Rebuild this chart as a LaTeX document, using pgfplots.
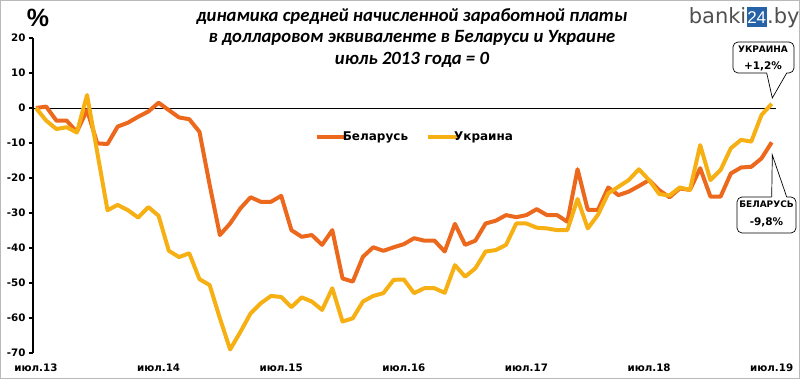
\documentclass[border=0pt]{standalone}
\usepackage{fontspec}
\setmainfont{DejaVu Sans}
\newfontfamily\titlefont{Carlito}
\newfontfamily\libfont{Liberation Sans}
\usepackage{pgfplots}
\usepackage{pgfplotstable}
\pgfplotsset{compat=1.18}
\definecolor{bel}{RGB}{236,104,28}
\definecolor{ukr}{RGB}{246,176,20}
\definecolor{logoblue}{RGB}{38,98,168}
\definecolor{logogray}{RGB}{80,80,80}

\pgfplotstableread{
i bel ukr
0 0 0
1 0.4 -3.6
2 -3.6 -6.0
3 -3.6 -5.5
4 -6.8 -7.0
5 -0.6 3.7
6 -10.1 -12.7
7 -10.3 -29.2
8 -5.3 -27.7
9 -4.2 -29.2
10 -2.5 -31.3
11 -1.0 -28.3
12 1.5 -30.8
13 -0.6 -40.8
14 -2.7 -42.6
15 -3.2 -41.5
16 -6.8 -48.9
17 -22.0 -50.6
18 -36.3 -60.1
19 -33.0 -69.0
20 -28.7 -64.0
21 -25.5 -58.7
22 -26.8 -55.8
23 -26.8 -53.7
24 -25.1 -54.0
25 -34.9 -56.9
26 -36.8 -54.1
27 -36.3 -55.3
28 -39.1 -57.7
29 -34.9 -51.5
30 -48.7 -61.0
31 -49.6 -60.1
32 -42.5 -55.3
33 -39.8 -53.7
34 -40.8 -52.9
35 -39.8 -49.1
36 -38.9 -49.0
37 -37.2 -52.9
38 -37.9 -51.5
39 -37.9 -51.5
40 -41.0 -52.8
41 -33.1 -44.9
42 -39.1 -48.2
43 -37.9 -45.8
44 -33.0 -41.0
45 -32.2 -40.6
46 -30.6 -39.1
47 -31.2 -33.0
48 -30.6 -33.0
49 -28.9 -34.2
50 -30.6 -34.4
51 -30.6 -34.9
52 -32.5 -34.9
53 -17.5 -26.0
54 -29.1 -34.4
55 -29.1 -30.5
56 -22.7 -24.4
57 -24.9 -22.5
58 -23.9 -20.6
59 -22.3 -17.5
60 -20.6 -20.6
61 -23.5 -24.6
62 -25.5 -25.0
63 -23.0 -22.7
64 -23.4 -23.4
65 -17.2 -10.6
66 -25.3 -20.6
67 -25.3 -17.7
68 -18.7 -11.5
69 -17.0 -9.1
70 -16.8 -9.6
71 -14.4 -2.0
72 -9.8 1.2
}\data

\begin{document}
\begin{tikzpicture}[x=1pt,y=1pt]
\useasboundingbox (0,0) rectangle (800,379);
\draw[gray!55, line width=1pt] (0.5,0.5) rectangle (799.5,378.5);
\begin{axis}[
  at={(33pt,26pt)}, anchor=south west,
  scale only axis, width=743pt, height=315pt,
  xmin=-0.29, xmax=72.42, ymin=-70, ymax=20,
  axis x line*=bottom, axis y line*=left,
  x axis line style={draw=none},
  y axis line style={line width=2pt},
  xtick={0,12,24,36,48,60,72},
  xticklabels={июл.13,июл.14,июл.15,июл.16,июл.17,июл.18,июл.19},
  xtick style={draw=none},
  ytick={-70,-60,-50,-40,-30,-20,-10,0,10,20},
  yticklabels={-70,-60,-50,-40,-30,-20,-10,0,10,20},
  tick align=outside, major tick length=4pt,
  ytick style={line width=1.2pt, black},
  ticklabel style={font=\bfseries\fontsize{10.3}{12}\selectfont},
  xticklabel style={yshift=-3pt},
  clip=false,
  legend style={at={(0.514,0.686)}, anchor=center, draw=none, fill=none,
    font=\bfseries\fontsize{12}{14}\selectfont,
    /tikz/every even column/.append style={column sep=16pt}},
  legend columns=2,
  legend image code/.code={\path (0pt,0pt) -- (22pt,0pt);
    \draw[#1, line width=4pt, overlay] (0pt,0pt) -- (29pt,0pt);},
]
\draw[black, line width=0.8pt] (axis cs:-0.29,0) -- (axis cs:72.42,0);
\addplot[bel, line width=4pt, line join=round] table[x=i,y=bel]{\data};
\addlegendentry{Беларусь}
\addplot[ukr, line width=4pt, line join=round] table[x=i,y=ukr]{\data};
\addlegendentry{Украина}
\end{axis}

% title
\node[font=\titlefont\bfseries\itshape\fontsize{18.7}{21}\selectfont, anchor=base] at (412,357) {динамика средней начисленной заработной платы};
\node[font=\titlefont\bfseries\itshape\fontsize{18.7}{21}\selectfont, anchor=base] at (412,336) {в долларовом эквиваленте в Беларуси и Украине};
\node[font=\titlefont\bfseries\itshape\fontsize{18.7}{21}\selectfont, anchor=base] at (412,314) {июль 2013 года = 0};
\node[font=\libfont\bfseries\fontsize{25}{25}\selectfont, anchor=base] at (38,352) {\%};

% logo
\node[font=\fontsize{21}{21}\selectfont, text=logogray, anchor=base east, inner sep=0pt] at (746.5,355) {banki};
\fill[logoblue] (746.7,351.7) rectangle (766.7,371.7);
\node[font=\libfont\fontsize{17}{17}\selectfont, text=white, anchor=base, inner sep=0pt] at (756.7,355) {24};
\node[font=\fontsize{21}{21}\selectfont, text=logogray, anchor=base west, inner sep=0pt] at (767,355) {.by};

% callout Ukraine
\draw[black, line width=0.7pt, fill=white, rounded corners=5pt] (733,306) rectangle (794,337);
\fill[white] (766.7,306.8) -- (772.3,281) -- (786.7,306.8) -- cycle;
\draw[line width=0.7pt] (766.7,306) -- (772.3,281) -- (786.7,306);
\node[font=\bfseries\fontsize{9}{9}\selectfont] at (763,330) {УКРАИНА};
\node[font=\bfseries\fontsize{10.5}{10}\selectfont] at (763,312.5) {+1,2\%};

% callout Belarus
\draw[black, line width=0.7pt, fill=white, rounded corners=5pt] (737,146) rectangle (796,182);
\fill[white] (771.7,181.2) -- (772.3,224) -- (786.7,181.2) -- cycle;
\draw[line width=0.7pt] (771.7,182) -- (772.3,224) -- (786.7,182);
\node[font=\bfseries\fontsize{9}{9}\selectfont] at (766.5,175) {БЕЛАРУСЬ};
\node[font=\bfseries\fontsize{10.5}{10}\selectfont] at (766.5,157) {-9,8\%};
\end{tikzpicture}
\end{document}
